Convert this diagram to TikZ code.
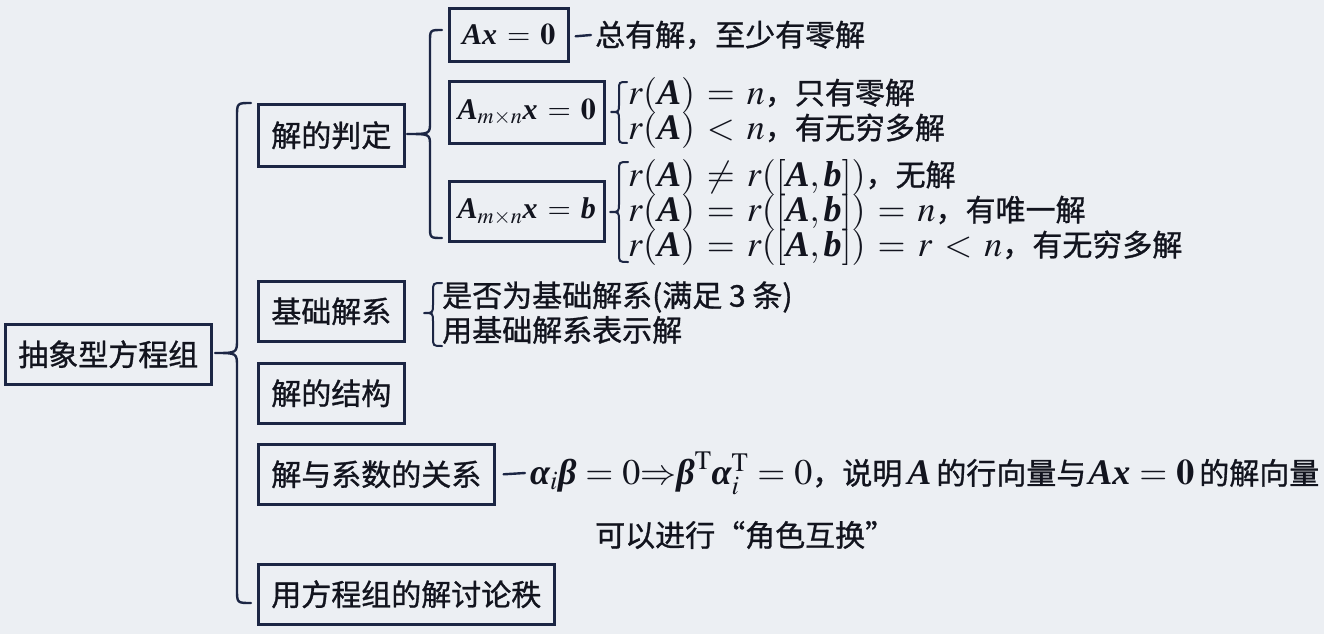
\documentclass[tikz,border=0pt]{standalone}
\usepackage{amsmath}
\usepackage{mathptmx}
\usepackage{fontspec}
\setmainfont{Liberation Serif}
\newfontfamily\cjk[Scale=0.8333,FakeBold=1]{Noto Sans CJK SC}
\usetikzlibrary{calc}
\definecolor{bg}{RGB}{236,239,243}
\definecolor{ink}{RGB}{18,20,30}
\definecolor{lc}{RGB}{28,38,68}
\newcommand\bfit[1]{\text{\normalfont\bfseries\itshape #1}}
\newcommand\widerel{\thickmuskip=6mu plus 1mu\relax}
\newcommand\eqrel{\thickmuskip=6mu plus 1mu\relax}
\newcommand\narrowrel{\thickmuskip=4.5mu plus 1mu\relax}
\tikzset{
 box/.style={draw=lc, line width=2.6pt, anchor=north west, inner xsep=13pt, inner ysep=0pt, minimum height=60pt, text=ink, font=\cjk\fontsize{36}{42}\selectfont},
 eqbox/.style={draw=lc, line width=2.6pt, anchor=north west, inner sep=0pt, text=ink, font=\fontsize{30}{36}\selectfont\eqrel},
 side/.style={anchor=west, inner sep=0pt, text=ink, font=\cjk\fontsize{36}{42}\selectfont\widerel},
 ln/.style={draw=lc, line width=2.4pt, line cap=round, line join=round},
 sln/.style={draw=lc, line width=2pt, line cap=round, line join=round},
}
% #1 x of line, #2 top y, #3 bottom y, #4 tip x, #5 tip y, #6 curl, #7 style
\newcommand\Brace[7]{\draw[#7] ({#1+#6},#2) .. controls (#1,#2) .. (#1,{#2+#6}) -- (#1,{#5-#6}) .. controls (#1,#5) .. (#4,#5) .. controls (#1,#5) .. (#1,{#5+#6}) -- (#1,{#3-#6}) .. controls (#1,#3) .. ({#1+#6},#3);}
\begin{document}
\begin{tikzpicture}[x=1pt,y=-1pt]
\fill[bg] (0,0) rectangle (1324,634);
\useasboundingbox (0,0) rectangle (1324,634);

% first level
\node[box] (root) at (4,323) {抽象型方程组};
\node[box, minimum height=62pt] (judge) at (257,103) {解的判定};
\node[box] (basis) at (257,280) {基础解系};
\node[box] (struct) at (257,362) {解的结构};
\node[box] (coef) at (257,443) {解与系数的关系};
\node[box] (rank) at (257,563) {用方程组的解讨论秩};

% equation boxes
\node[eqbox, minimum width=119pt, minimum height=53pt] (e1) at (448,7) {$\bfit{Ax} = \mathbf{0}$};
\node[eqbox, minimum width=155pt, minimum height=62pt] (e2) at (448,80) {$\bfit{A}_{m\times n}\bfit{x} = \mathbf{0}$};
\node[eqbox, minimum width=155pt, minimum height=60pt] (e3) at (448,180) {$\bfit{A}_{m\times n}\bfit{x} = \bfit{b}$};

% side texts
\node[side] (s1) at (595,35) {总有解，至少有零解};
\node[side] (s2a) at (628,95) {$r(\bfit{A}) = n$，只有零解};
\node[side] (s2b) at (628,130) {$r(\bfit{A}) < n$，有无穷多解};
\node[side] (s3a) at (628,177) {$r(\bfit{A}) \neq r([\bfit{A},\bfit{b}])$，无解};
\node[side] (s3b) at (628,212) {$r(\bfit{A}) = r([\bfit{A},\bfit{b}]) = n$，有唯一解};
\node[side] (s3c) at (628,247) {$r(\bfit{A}) = r([\bfit{A},\bfit{b}]) = r < n$，有无穷多解};
\node[side] (s4a) at (442,297) {是否为基础解系(满足 3 条)};
\node[side] (s4b) at (442,330) {用基础解系表示解};
\node[side, font=\cjk\fontsize{36}{42}\selectfont\narrowrel] (s5) at (530,473) {$\bfit{α}_i\bfit{β} = 0{\Rightarrow}\bfit{β}^{\mathrm{T}}\bfit{α}_i^{\mathrm{T}} = 0$，说明\hspace{5pt}$\bfit{A}$\hspace{5pt}的行向量与\hspace{2pt}$\bfit{Ax} = \mathbf{0}$\hspace{5pt}的解向量};
\node[side] (s6) at (595,535) {可以进行“角色互换”};

% dashes
\draw[ln] ($(e1.east)+(6,1.5)$) -- ($(s1.west)+(-4,0)$);
\draw[ln] ($(coef.east)+(8,0)$) -- ($(s5.west)+(-5,0)$);

% braces
\Brace{237}{103}{603}{215}{353}{14}{ln}
\Brace{430}{30}{238}{407}{134}{12}{ln}
\Brace{619}{82}{143}{611}{112}{8}{sln}
\Brace{619}{162}{262}{610}{212}{9}{sln}
\Brace{433}{283}{346}{424}{313}{9}{sln}
\end{tikzpicture}
\end{document}
